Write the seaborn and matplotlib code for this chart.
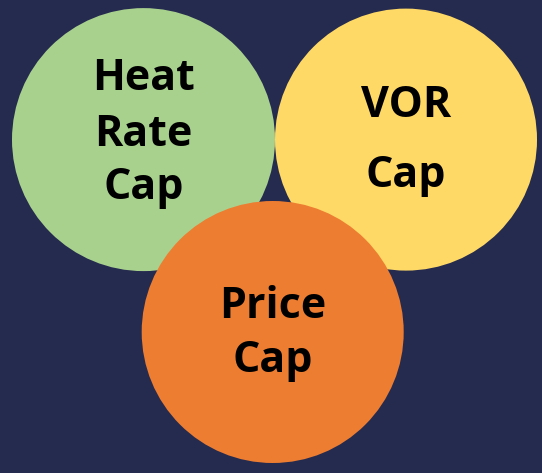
import matplotlib
matplotlib.use("Agg")
import matplotlib.pyplot as plt
from matplotlib.patches import Circle
import seaborn as sns

# circles (pixel coords, y grows downward)
names = ["Heat Rate Cap", "VOR Cap", "Price Cap"]
center_x = [143.5, 406.0, 272.7]
center_y = [139.6, 139.6, 332.0]
radius = [131.5, 131.0, 131.0]
colors = ["#A9D18E", "#FFD966", "#ED7D31"]

# text lines inside each circle, with baseline offsets from the centre
lines = [["Heat", "Rate", "Cap"], ["VOR", "Cap"], ["Price", "Cap"]]
baseline_off = [[-49.6, 6.0, 59.4], [-22.6, 47.4], [-14.0, 40.0]]

bg = "#252A4F"

sns.set_theme(style="white")
plt.rcParams["font.family"] = ["Open Sans", "DejaVu Sans"]

fig = plt.figure(figsize=(5.42, 4.73), dpi=100, facecolor=bg)
ax = fig.add_axes([0, 0, 1, 1])
ax.set_facecolor(bg)
ax.set_xlim(0, 542)
ax.set_ylim(473, 0)
ax.set_aspect("equal")
ax.axis("off")

for i, n in enumerate(names):
    ax.add_patch(Circle((center_x[i], center_y[i]), radius[i], color=colors[i], lw=0, zorder=i + 1))
    for txt, off in zip(lines[i], baseline_off[i]):
        ax.text(center_x[i], center_y[i] + off, txt, ha="center", va="baseline",
                fontsize=31, fontweight="bold", color="black", zorder=10)

fig.savefig("out.png", dpi=100, facecolor=bg)
